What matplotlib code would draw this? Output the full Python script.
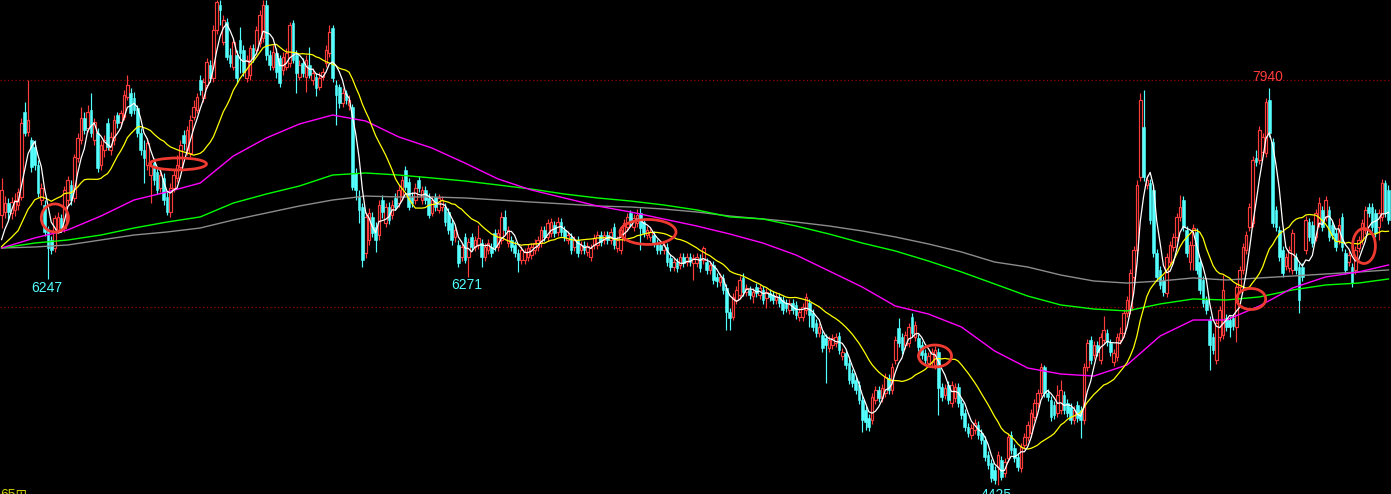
import numpy as np
import pandas as pd
import matplotlib
matplotlib.use("Agg")
import matplotlib.pyplot as plt
from matplotlib.patches import Ellipse

# ---------------- data (daily candles) ----------------
opens = [
    6817, 6844, 6923, 6835, 6861, 6906, 6977, 7729, 7552, 7481,
    7419, 7260, 6950, 6906, 6684, 6596, 6525, 6684, 6791, 6702,
    6950, 7083, 6968, 7322, 7481, 7676, 7587, 7746, 7481, 7543,
    7260, 7392, 7631, 7392, 7481, 7702, 7640, 7685, 7862, 7897,
    7853, 7764, 7543, 7392, 7260, 7171, 7277, 7198, 7056, 7145,
    6977, 6844, 7056, 7145, 7242, 7525, 7392, 7366, 7685, 7746,
    8012, 7853, 7968, 8145, 8030, 8454, 8676, 8348, 8525, 8233,
    8127, 8233, 8366, 8277, 8030, 8056, 8295, 8277, 8339, 8384,
    8676, 8233, 8127, 8251, 8207, 8100, 8127, 8162, 8516, 8233,
    8039, 8162, 8039, 8145, 8012, 8039, 7950, 8039, 8162, 8251,
    8472, 7968, 7950, 7808, 7897, 7791, 7773, 7189, 6977, 6888,
    6481, 6596, 6800, 6711, 6640, 6950, 6746, 6888, 6817, 6968,
    6923, 6977, 7215, 7109, 6977, 6950, 7127, 6950, 7038, 6968,
    6835, 6977, 6861, 6888, 6888, 6844, 6746, 6623, 6552, 6446,
    6623, 6446, 6623, 6534, 6552, 6569, 6446, 6507, 6534, 6658,
    6534, 6596, 6800, 6569, 6596, 6552, 6481, 6419, 6419, 6446,
    6463, 6507, 6534, 6569, 6684, 6623, 6658, 6729, 6667, 6755,
    6684, 6596, 6623, 6534, 6596, 6507, 6552, 6490, 6446, 6552,
    6552, 6640, 6596, 6640, 6596, 6711, 6525, 6507, 6623, 6711,
    6835, 6711, 6746, 6835, 6755, 6640, 6623, 6640, 6569, 6552,
    6507, 6534, 6437, 6357, 6401, 6375, 6446, 6401, 6446, 6392,
    6392, 6437, 6419, 6401, 6330, 6375, 6269, 6224, 6260, 6171,
    5959, 5915, 6065, 6109, 6260, 6136, 6153, 6100, 6180, 6109,
    6153, 6083, 6127, 6109, 6065, 6092, 6065, 6038, 5976, 6038,
    6021, 5915, 5915, 5976, 6038, 5950, 5861, 5773, 5755, 5729,
    5640, 5667, 5684, 5746, 5569, 5596, 5507, 5419, 5357, 5313,
    5180, 5091, 5021, 5003, 5180, 5269, 5198, 5242, 5375, 5269,
    5534, 5817, 5738, 5667, 5684, 5915, 5738, 5729, 5667, 5596,
    5507, 5516, 5490, 5605, 5295, 5224, 5313, 5153, 5198, 5295,
    5153, 5065, 4941, 4870, 4915, 4959, 4888, 4826, 4693, 4622,
    4560, 4587, 4649, 4534, 4667, 4870, 4755, 4676, 4578, 4782,
    4853, 4888, 5030, 5153, 5242, 5472, 5242, 5180, 5136, 5065,
    5091, 5224, 5153, 5118, 5003, 5136, 5091, 5003, 5472, 5711,
    5578, 5667, 5534, 5711, 5773, 5684, 5516, 5561, 5711, 5773,
    5950, 5976, 6269, 6507, 7154, 7596, 7083, 7100, 7038, 6481,
    6330, 6242, 6127, 6401, 6534, 6623, 6800, 6950, 6684, 6401,
    6552, 6667, 6401, 6242, 6065, 5888, 5738, 5534, 5738, 5755,
    5906, 5888, 5906, 5826, 6180, 6330, 6507, 6711, 6746, 7322,
    7304, 7375, 7366, 7835, 7463, 6861, 6684, 6507, 6366, 6348,
    6330, 6446, 6357, 6357, 6507, 6755, 6729, 6623, 6746, 6861,
    6800, 6861, 6729, 6658, 6596, 6800, 6481, 6401, 6357, 6330,
    6525, 6596, 6684, 6888, 6888, 6835, 6711, 6800, 7100, 7038,
]
closes = [
    7038, 6923, 6844, 6932, 6950, 7021, 7631, 7543, 7658, 7242,
    7260, 7012, 7056, 6667, 6525, 6507, 6791, 6800, 6702, 7038,
    7127, 6950, 7331, 7499, 7676, 7569, 7729, 7543, 7640, 7233,
    7437, 7481, 7419, 7508, 7658, 7631, 7720, 7879, 7968, 7720,
    7746, 7543, 7392, 7322, 7454, 7260, 7127, 7038, 7171, 6950,
    6844, 7056, 7171, 7260, 7437, 7454, 7569, 7658, 7773, 7862,
    7923, 7994, 8171, 8030, 8454, 8702, 8631, 8543, 8216, 8162,
    8348, 8030, 8251, 8083, 8189, 8295, 8207, 8454, 8587, 8676,
    8233, 8145, 8260, 8083, 7985, 8216, 8251, 8499, 8189, 8074,
    8145, 8074, 8189, 8056, 8074, 7941, 8030, 8083, 8277, 8437,
    8030, 7879, 7808, 7897, 7835, 7835, 7065, 7038, 6861, 6419,
    6800, 6835, 6658, 6596, 6906, 6844, 6888, 6773, 6906, 6888,
    7038, 7127, 7065, 6888, 6923, 7056, 7056, 7038, 6950, 6817,
    6950, 6888, 6968, 6950, 6755, 6684, 6596, 6684, 6392, 6534,
    6419, 6578, 6534, 6596, 6614, 6446, 6534, 6569, 6481, 6534,
    6658, 6800, 6684, 6684, 6534, 6481, 6419, 6507, 6490, 6525,
    6534, 6569, 6596, 6684, 6623, 6746, 6755, 6658, 6755, 6667,
    6623, 6640, 6507, 6596, 6481, 6552, 6507, 6543, 6525, 6614,
    6640, 6578, 6640, 6596, 6667, 6552, 6596, 6684, 6746, 6800,
    6755, 6791, 6817, 6702, 6658, 6684, 6667, 6569, 6507, 6507,
    6552, 6401, 6357, 6401, 6348, 6446, 6392, 6446, 6401, 6437,
    6446, 6348, 6525, 6330, 6375, 6242, 6233, 6269, 6153, 5959,
    5906, 6092, 6153, 6242, 6136, 6171, 6109, 6136, 6127, 6171,
    6065, 6136, 6092, 6065, 6100, 6038, 5976, 5994, 6038, 5976,
    5932, 5959, 6003, 6092, 5932, 5826, 5773, 5826, 5640, 5667,
    5711, 5729, 5738, 5622, 5605, 5490, 5357, 5330, 5269, 5180,
    5003, 4985, 4941, 5207, 5269, 5198, 5286, 5384, 5269, 5472,
    5711, 5684, 5622, 5755, 5826, 5773, 5844, 5649, 5578, 5534,
    5569, 5605, 5622, 5286, 5207, 5286, 5180, 5313, 5295, 5153,
    5047, 4941, 4888, 4932, 4976, 4870, 4826, 4676, 4605, 4490,
    4472, 4693, 4499, 4631, 4853, 4737, 4667, 4587, 4764, 4853,
    4959, 5065, 5153, 5242, 5472, 5242, 5207, 5030, 5047, 5224,
    5269, 5091, 5065, 5003, 5091, 5021, 5003, 5472, 5684, 5534,
    5667, 5605, 5738, 5799, 5693, 5605, 5596, 5738, 5773, 5950,
    6065, 6304, 6507, 7083, 7835, 7154, 7127, 6773, 6481, 6269,
    6198, 6136, 6446, 6552, 6623, 6800, 6888, 6711, 6481, 6552,
    6702, 6330, 6153, 6038, 5976, 5667, 5622, 5861, 5976, 6153,
    5826, 5826, 5835, 6180, 6330, 6534, 6640, 6888, 7304, 7286,
    7569, 7508, 7817, 7543, 6746, 6711, 6446, 6304, 6446, 6507,
    6658, 6330, 6065, 6269, 6773, 6623, 6569, 6835, 6923, 6711,
    6950, 6623, 6640, 6534, 6729, 6534, 6330, 6463, 6215, 6507,
    6596, 6746, 6861, 6835, 6711, 6658, 6835, 7100, 6835, 6773,
]
highs = [
    7145, 6985, 6968, 6977, 7012, 7056, 7676, 7817, 8012, 7508,
    7481, 7304, 7100, 6950, 6720, 6631, 6817, 6844, 6826, 7074,
    7162, 7127, 7357, 7543, 7773, 7729, 7791, 7897, 7676, 7587,
    7481, 7525, 7676, 7552, 7702, 7729, 7746, 7923, 8056, 7941,
    7906, 7791, 7587, 7481, 7499, 7304, 7322, 7233, 7215, 7189,
    7021, 7100, 7215, 7348, 7481, 7569, 7605, 7702, 7835, 7897,
    8056, 8030, 8207, 8189, 8499, 8720, 8720, 8587, 8561, 8295,
    8384, 8277, 8481, 8322, 8233, 8322, 8331, 8490, 8631, 8720,
    8720, 8277, 8322, 8295, 8233, 8260, 8295, 8525, 8543, 8277,
    8189, 8207, 8233, 8304, 8118, 8074, 8083, 8118, 8322, 8499,
    8499, 8012, 7977, 7941, 7923, 7879, 7800, 7233, 7038, 6923,
    6844, 6879, 6844, 6755, 6950, 6994, 6923, 6932, 6950, 7012,
    7083, 7162, 7251, 7145, 7021, 7100, 7162, 7074, 7074, 7012,
    6985, 7012, 7003, 6985, 6923, 6879, 6782, 6720, 6596, 6569,
    6658, 6614, 6658, 6631, 6729, 6605, 6569, 6605, 6569, 6693,
    6693, 6844, 6861, 6720, 6631, 6587, 6516, 6543, 6525, 6561,
    6569, 6605, 6631, 6720, 6720, 6782, 6791, 6764, 6800, 6791,
    6720, 6676, 6658, 6631, 6631, 6587, 6587, 6578, 6561, 6649,
    6676, 6676, 6676, 6676, 6702, 6746, 6631, 6720, 6782, 6835,
    6861, 6826, 6870, 6879, 6791, 6720, 6702, 6676, 6605, 6587,
    6587, 6569, 6472, 6437, 6437, 6481, 6481, 6481, 6481, 6472,
    6481, 6472, 6543, 6437, 6410, 6410, 6304, 6304, 6295, 6207,
    5994, 6127, 6189, 6277, 6304, 6207, 6189, 6171, 6215, 6207,
    6189, 6171, 6162, 6145, 6136, 6127, 6100, 6074, 6074, 6074,
    6056, 5994, 6038, 6127, 6074, 5985, 5897, 5861, 5791, 5764,
    5746, 5764, 5773, 5782, 5640, 5631, 5543, 5454, 5392, 5348,
    5215, 5127, 5056, 5242, 5304, 5304, 5322, 5419, 5410, 5507,
    5746, 5906, 5773, 5791, 5861, 5950, 5879, 5764, 5702, 5631,
    5605, 5640, 5658, 5640, 5330, 5322, 5348, 5348, 5330, 5330,
    5189, 5100, 4976, 4968, 5012, 4994, 4923, 4861, 4729, 4658,
    4596, 4729, 4684, 4667, 4888, 4906, 4791, 4711, 4800, 4888,
    4994, 5100, 5189, 5277, 5507, 5490, 5277, 5215, 5171, 5313,
    5357, 5260, 5189, 5153, 5127, 5171, 5127, 5507, 5720, 5746,
    5702, 5702, 5773, 5923, 5808, 5720, 5631, 5773, 5826, 5985,
    6100, 6339, 6543, 7127, 7900, 7920, 7171, 7136, 7074, 6516,
    6366, 6277, 6481, 6587, 6658, 6835, 6994, 6985, 6720, 6587,
    6738, 6702, 6437, 6277, 6100, 5923, 5773, 5897, 6012, 6286,
    5941, 5923, 5941, 6215, 6366, 6569, 6676, 6923, 7340, 7392,
    7605, 7543, 7853, 7940, 7499, 6897, 6720, 6543, 6481, 6543,
    6693, 6481, 6392, 6392, 6808, 6791, 6764, 6870, 6977, 6897,
    6985, 6897, 6764, 6693, 6791, 6835, 6516, 6499, 6392, 6543,
    6631, 6782, 6897, 6923, 6923, 6870, 6870, 7136, 7127, 7083,
]
lows = [
    6702, 6791, 6773, 6782, 6808, 6861, 6950, 7516, 7516, 7198,
    7215, 6977, 6906, 6631, 6247, 6472, 6490, 6658, 6667, 6667,
    6906, 6906, 6932, 7286, 7446, 7534, 7552, 7508, 7437, 7198,
    7215, 7331, 7392, 7348, 7437, 7587, 7605, 7658, 7835, 7693,
    7711, 7508, 7348, 7100, 7215, 6923, 7083, 7003, 7021, 6906,
    6817, 6800, 7021, 7109, 7215, 7392, 7348, 7331, 7658, 7720,
    7879, 7817, 7941, 7994, 7994, 8419, 8499, 8322, 8189, 8127,
    8100, 7985, 8074, 8047, 7994, 8012, 8171, 8242, 8304, 8348,
    8189, 8100, 8100, 8030, 7950, 8056, 8100, 8127, 8162, 7897,
    8012, 8039, 7906, 8030, 7968, 7870, 7923, 8012, 8127, 8216,
    7994, 7614, 7764, 7773, 7800, 7746, 7038, 6950, 6746, 6357,
    6437, 6552, 6623, 6490, 6596, 6791, 6711, 6738, 6782, 6861,
    6888, 6950, 7038, 6861, 6888, 6915, 7021, 6915, 6915, 6791,
    6808, 6853, 6835, 6853, 6720, 6649, 6552, 6578, 6357, 6410,
    6392, 6271, 6499, 6499, 6516, 6357, 6410, 6472, 6446, 6499,
    6499, 6561, 6649, 6534, 6499, 6446, 6313, 6384, 6384, 6410,
    6428, 6472, 6499, 6534, 6587, 6587, 6623, 6623, 6631, 6631,
    6587, 6561, 6472, 6499, 6446, 6472, 6472, 6454, 6410, 6516,
    6516, 6543, 6561, 6561, 6561, 6516, 6490, 6472, 6587, 6676,
    6720, 6676, 6711, 6507, 6623, 6605, 6587, 6534, 6472, 6472,
    6472, 6366, 6322, 6322, 6313, 6339, 6357, 6366, 6366, 6242,
    6357, 6313, 6384, 6295, 6295, 6207, 6180, 6189, 6118, 5799,
    5799, 5888, 6030, 6074, 6100, 6100, 6074, 6038, 6092, 6074,
    6030, 5994, 6056, 6030, 6030, 6003, 5941, 5959, 5941, 5941,
    5897, 5879, 5879, 5941, 5826, 5791, 5738, 5738, 5605, 5330,
    5605, 5631, 5649, 5587, 5534, 5454, 5322, 5295, 5233, 5145,
    4897, 4914, 4906, 4968, 5145, 5162, 5162, 5207, 5233, 5233,
    5499, 5649, 5587, 5631, 5649, 5738, 5702, 5614, 5543, 5499,
    5472, 5481, 5454, 5047, 5171, 5189, 5145, 5118, 5162, 5118,
    5012, 4906, 4853, 4835, 4879, 4835, 4791, 4640, 4569, 4454,
    4437, 4425, 4472, 4499, 4631, 4702, 4631, 4552, 4543, 4746,
    4817, 4853, 4994, 5118, 5207, 5207, 5171, 4994, 5012, 5030,
    5056, 5056, 5030, 4968, 4968, 4985, 4844, 4968, 5437, 5499,
    5543, 5569, 5499, 5676, 5658, 5569, 5481, 5525, 5676, 5738,
    5915, 5941, 6233, 6472, 7118, 7118, 7047, 6738, 6446, 6233,
    6162, 6100, 6092, 6366, 6499, 6587, 6764, 6676, 6446, 6330,
    6330, 6295, 6118, 6003, 5941, 5445, 5587, 5499, 5702, 5720,
    5791, 5738, 5799, 5693, 6145, 6295, 6472, 6676, 6711, 7251,
    7269, 7340, 7331, 7508, 6711, 6676, 6410, 6269, 6330, 6313,
    6295, 6295, 5950, 6233, 6472, 6587, 6534, 6587, 6711, 6676,
    6764, 6587, 6605, 6499, 6561, 6499, 6295, 6366, 6180, 6295,
    6490, 6561, 6649, 6800, 6676, 6623, 6596, 6764, 6800, 6738,
]
# closes just before the visible window (needed for the MA5 / MA20 start)
prior_closes = [6348, 6313, 6401, 6330, 6437, 6366, 6286, 6401, 6463, 6375,
                6729, 6817, 6861, 6773, 6844, 6463, 6507, 6437, 6552]

# long moving averages every 10 candles
ma_sample_idx = list(range(0, 420, 10)) + [419]
ma60 = [6525, 6614, 6685, 6808, 6950, 7021, 7100, 7339, 7499, 7623,
        7702, 7649, 7508, 7410, 7277, 7136, 7039, 6968, 6897, 6844,
        6782, 6720, 6649, 6569, 6463, 6322, 6180, 6012, 5941, 5826,
        5614, 5463, 5410, 5392, 5490, 5746, 5888, 5888, 6012, 6171,
        6269, 6313, 6375]
ma120 = [6525, 6569, 6596, 6640, 6702, 6755, 6800, 6923, 7003, 7074,
         7171, 7189, 7171, 7145, 7118, 7083, 7047, 7003, 6968, 6941,
         6906, 6862, 6800, 6782, 6720, 6649, 6569, 6499, 6410, 6313,
         6207, 6100, 6021, 5985, 5968, 6030, 6074, 6065, 6092, 6154,
         6198, 6215, 6251]
ma250 = [6525, 6534, 6552, 6596, 6640, 6667, 6702, 6773, 6835, 6897,
         6950, 6985, 6977, 6977, 6968, 6950, 6932, 6915, 6897, 6888,
         6870, 6844, 6808, 6782, 6755, 6720, 6676, 6623, 6561, 6490,
         6401, 6357, 6286, 6233, 6215, 6233, 6260, 6242, 6260, 6277,
         6295, 6313, 6331]

grid_prices = [8012, 6003]

# ---------------- styling ----------------
RED = "#ff3c3c"
CYAN = "#54ffff"
BG = "black"

o = np.array(opens, float)
c = np.array(closes, float)
h = np.array(highs, float)
l = np.array(lows, float)
n = len(c)
x = np.arange(n)

fig = plt.figure(figsize=(13.91, 4.94), dpi=100)
fig.patch.set_facecolor(BG)
ax = fig.add_axes([0, 0, 1, 1])
ax.set_facecolor(BG)
ax.set_xlim(-0.48, 419.76)
ax.set_ylim(4348, 8720)
ax.axis("off")

for gp in grid_prices:
    ax.axhline(gp, color="#9a0000", lw=0.9, ls=(0, (1, 2)), zorder=1)

up = c >= o
dn = ~up
ax.vlines(x[up], l[up], h[up], color=RED, lw=0.85, zorder=2)
ax.vlines(x[dn], l[dn], h[dn], color=CYAN, lw=0.85, zorder=2)
ax.bar(x[up], c[up] - o[up], bottom=o[up], width=0.8, facecolor=BG,
       edgecolor=RED, linewidth=0.85, zorder=3)
ax.bar(x[dn], o[dn] - c[dn], bottom=c[dn], width=0.8, facecolor=CYAN,
       edgecolor=CYAN, linewidth=0.4, zorder=3)

# moving averages
full = pd.Series(prior_closes + closes, dtype=float)
k = len(prior_closes)
ma5 = full.rolling(5).mean().to_numpy()[k:]
ma20 = full.rolling(20).mean().to_numpy()[k:]

ax.plot(ma_sample_idx, ma250, color="#8c8c8c", lw=1.0, zorder=4)
ax.plot(ma_sample_idx, ma120, color="#00ff00", lw=1.0, zorder=4)
ax.plot(ma_sample_idx, ma60, color="#ff00ff", lw=1.0, zorder=4)
ax.plot(x, ma20, color="#ffff00", lw=0.9, zorder=5)
ax.plot(x, ma5, color="#ffffff", lw=0.9, zorder=6)

# red circles marking crossings
circles = [(16.1, 6791, 8.2, 248), (53.3, 7269, 17.2, 106),
           (195.3, 6667, 16.9, 221), (282.0, 5569, 10.0, 195),
           (377.5, 6074, 8.8, 186), (411.6, 6543, 6.9, 310)]
for cx, cy, w, hh in circles:
    ax.add_patch(Ellipse((cx, cy), w, hh, fill=False, edgecolor="#ee3a30",
                         lw=2.0, zorder=8))

# price labels
fam = ["Liberation Sans", "DejaVu Sans"]
ax.text(13.7, 6171, "6247", color=CYAN, fontsize=10, family=fam,
        ha="center", va="center", zorder=9)
ax.text(140.5, 6198, "6271", color=CYAN, fontsize=10, family=fam,
        ha="center", va="center", zorder=9)
ax.text(382.6, 8035, "7940", color=RED, fontsize=10, family=fam,
        ha="center", va="center", zorder=9)
ax.text(300.4, 4338, "4425", color=CYAN, fontsize=10, family=fam,
        ha="center", va="center", zorder=9, clip_on=False)
ax.text(-0.3, 4340, "65\u229e", color="#c8c800", fontsize=10, family=fam,
        ha="left", va="center", zorder=9, clip_on=False)

fig.savefig("out.png", dpi=100, facecolor=BG)
